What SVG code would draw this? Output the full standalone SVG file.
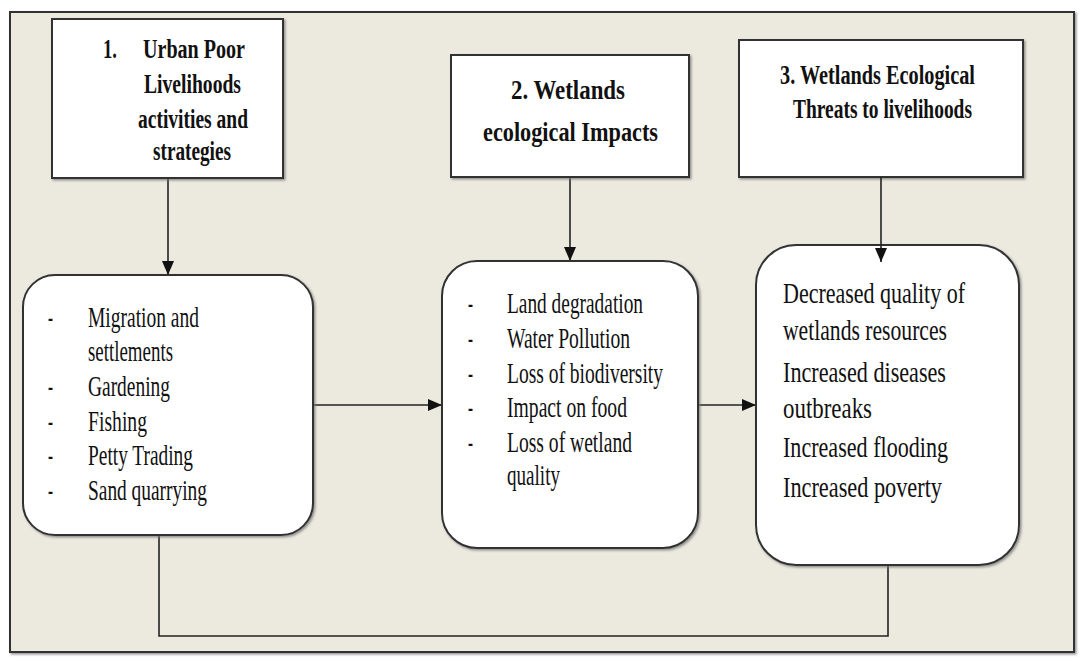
<svg xmlns="http://www.w3.org/2000/svg" width="1085" height="665" viewBox="0 0 1085 665">
<defs>
<filter id="sh" x="-5%" y="-5%" width="115%" height="115%">
<feDropShadow dx="1.5" dy="1.5" stdDeviation="0.8" flood-color="#777" flood-opacity="0.8"/>
</filter>
<marker id="arr" viewBox="0 0 14 12" refX="14" refY="6" markerWidth="14" markerHeight="12" markerUnits="userSpaceOnUse" orient="auto">
<path d="M0,0 L14,6 L0,12 z" fill="#111"/>
</marker>
</defs>
<style>
.box{fill:#fff;stroke:#333;stroke-width:2;filter:url(#sh)}
.frame{fill:#ECE9DF;stroke:#333;stroke-width:2;filter:url(#sh)}
.hd{font-family:"Liberation Serif","Times New Roman",serif;font-weight:bold;font-size:28px;fill:#111}
.it{font-family:"Liberation Serif","Times New Roman",serif;font-size:29px;fill:#111}
.it3{font-family:"Liberation Serif","Times New Roman",serif;font-size:30px;fill:#111}
.con{fill:none;stroke:#222;stroke-width:1.6}
</style>
<rect x="0" y="0" width="1085" height="665" fill="#fff"/>
<rect class="frame" x="10" y="12" width="1064" height="640"/>

<g id="connectors">
<line class="con" x1="168" y1="178" x2="168" y2="275" marker-end="url(#arr)"/>
<line class="con" x1="570" y1="177" x2="570" y2="261" marker-end="url(#arr)"/>
<line class="con" x1="313" y1="405" x2="442" y2="405" marker-end="url(#arr)"/>
<line class="con" x1="698" y1="405" x2="756" y2="405" marker-end="url(#arr)"/>
<polyline class="con" points="159,535 159,636 888,636 888,565"/>
</g>

<g id="node1">
<rect class="box" x="52" y="19" width="231" height="159"/>
<text class="hd" x="103" y="58" textLength="14" lengthAdjust="spacingAndGlyphs">1.</text>
<text class="hd" x="143" y="58" textLength="102" lengthAdjust="spacingAndGlyphs">Urban Poor</text>
<text class="hd" x="144" y="93" textLength="97" lengthAdjust="spacingAndGlyphs">Livelihoods</text>
<text class="hd" x="138" y="128" textLength="110" lengthAdjust="spacingAndGlyphs">activities and</text>
<text class="hd" x="153" y="160" textLength="78" lengthAdjust="spacingAndGlyphs">strategies</text>
</g>

<g id="node2">
<rect class="box" x="451" y="55" width="238" height="122"/>
<text class="hd" x="511" y="99" textLength="114" lengthAdjust="spacingAndGlyphs">2. Wetlands</text>
<text class="hd" x="483" y="141" textLength="175" lengthAdjust="spacingAndGlyphs">ecological Impacts</text>
</g>

<g id="node3">
<rect class="box" x="739" y="40" width="284" height="137"/>
<text class="hd" x="780" y="84" textLength="195" lengthAdjust="spacingAndGlyphs">3. Wetlands Ecological</text>
<text class="hd" x="793" y="118" textLength="179" lengthAdjust="spacingAndGlyphs">Threats to livelihoods</text>
</g>

<g id="node4">
<rect class="box" x="23" y="275" width="290" height="260" rx="32" ry="32"/>
<text class="it" x="48" y="327" textLength="5" lengthAdjust="spacingAndGlyphs">-</text>
<text class="it" x="88" y="327" textLength="111" lengthAdjust="spacingAndGlyphs">Migration and</text>
<text class="it" x="88" y="361" textLength="85" lengthAdjust="spacingAndGlyphs">settlements</text>
<text class="it" x="48" y="396" textLength="5" lengthAdjust="spacingAndGlyphs">-</text>
<text class="it" x="88" y="396" textLength="82" lengthAdjust="spacingAndGlyphs">Gardening</text>
<text class="it" x="48" y="431" textLength="5" lengthAdjust="spacingAndGlyphs">-</text>
<text class="it" x="88" y="431" textLength="59" lengthAdjust="spacingAndGlyphs">Fishing</text>
<text class="it" x="48" y="465" textLength="5" lengthAdjust="spacingAndGlyphs">-</text>
<text class="it" x="88" y="465" textLength="105" lengthAdjust="spacingAndGlyphs">Petty Trading</text>
<text class="it" x="48" y="500" textLength="5" lengthAdjust="spacingAndGlyphs">-</text>
<text class="it" x="88" y="500" textLength="119" lengthAdjust="spacingAndGlyphs">Sand quarrying</text>
</g>

<g id="node5">
<rect class="box" x="442" y="261" width="256" height="287" rx="35" ry="35"/>
<text class="it" x="468" y="313" textLength="5" lengthAdjust="spacingAndGlyphs">-</text>
<text class="it" x="507" y="313" textLength="136" lengthAdjust="spacingAndGlyphs">Land degradation</text>
<text class="it" x="468" y="348" textLength="5" lengthAdjust="spacingAndGlyphs">-</text>
<text class="it" x="507" y="348" textLength="123" lengthAdjust="spacingAndGlyphs">Water Pollution</text>
<text class="it" x="468" y="383" textLength="5" lengthAdjust="spacingAndGlyphs">-</text>
<text class="it" x="507" y="383" textLength="156" lengthAdjust="spacingAndGlyphs">Loss of biodiversity</text>
<text class="it" x="468" y="417" textLength="5" lengthAdjust="spacingAndGlyphs">-</text>
<text class="it" x="507" y="417" textLength="120" lengthAdjust="spacingAndGlyphs">Impact on food</text>
<text class="it" x="468" y="452" textLength="5" lengthAdjust="spacingAndGlyphs">-</text>
<text class="it" x="507" y="452" textLength="125" lengthAdjust="spacingAndGlyphs">Loss of wetland</text>
<text class="it" x="507" y="485" textLength="53" lengthAdjust="spacingAndGlyphs">quality</text>
</g>

<g id="node6">
<rect class="box" x="756" y="245" width="263" height="320" rx="40" ry="40"/>
<text class="it3" x="783" y="303" textLength="182" lengthAdjust="spacingAndGlyphs">Decreased quality of</text>
<text class="it3" x="783" y="340" textLength="164" lengthAdjust="spacingAndGlyphs">wetlands resources</text>
<text class="it3" x="783" y="382" textLength="163" lengthAdjust="spacingAndGlyphs">Increased diseases</text>
<text class="it3" x="783" y="418" textLength="89" lengthAdjust="spacingAndGlyphs">outbreaks</text>
<text class="it3" x="783" y="457" textLength="165" lengthAdjust="spacingAndGlyphs">Increased flooding</text>
<text class="it3" x="783" y="497" textLength="159" lengthAdjust="spacingAndGlyphs">Increased poverty</text>
</g>

<g id="connectors-top">
<line class="con" x1="881" y1="177" x2="881" y2="262" marker-end="url(#arr)"/>
</g>
</svg>
